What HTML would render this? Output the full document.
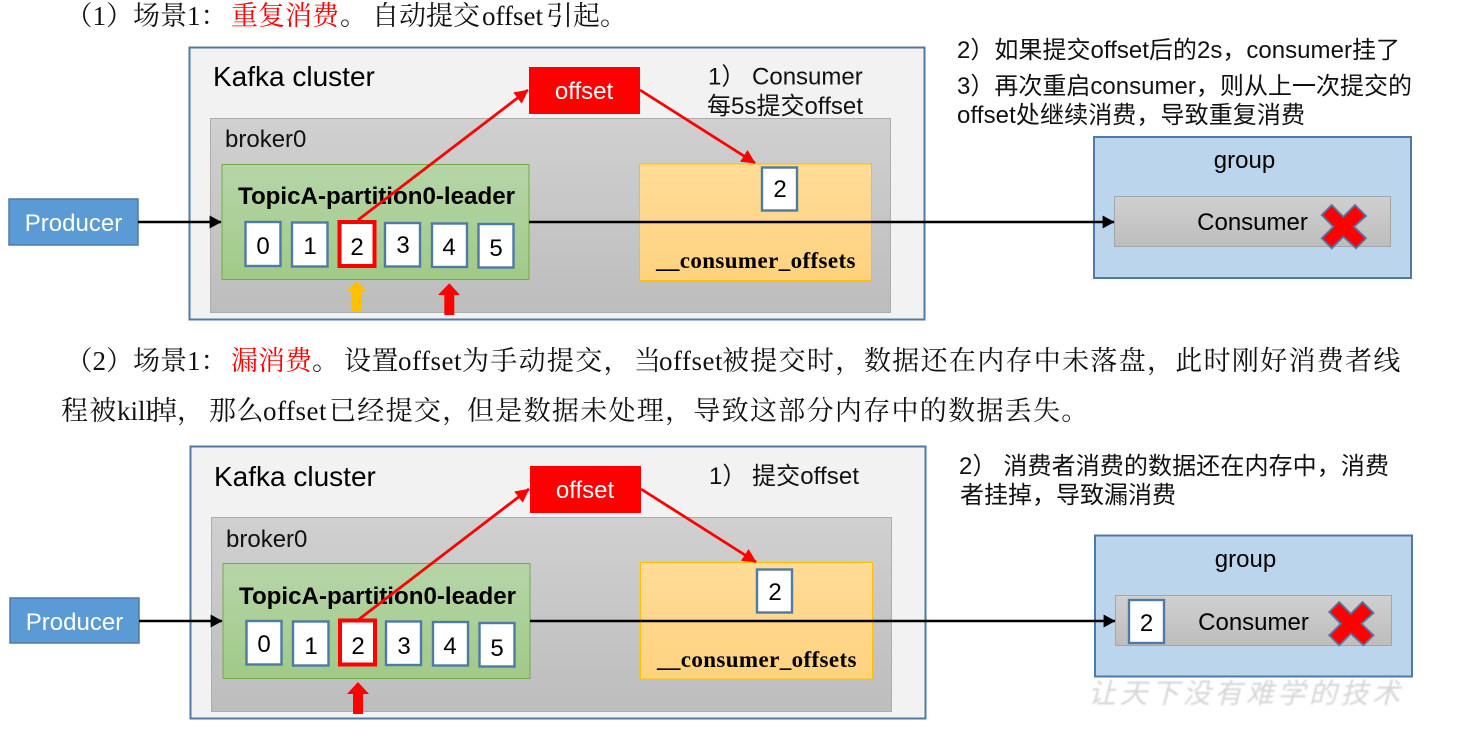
<!DOCTYPE html>
<html><head><meta charset="utf-8">
<style>
html,body{margin:0;padding:0;background:#fff}
svg{display:block}
text{font-family:"Liberation Sans","Noto Sans CJK SC",sans-serif;fill:#000}
.s{font-family:"Liberation Serif","Noto Serif CJK SC",serif;font-size:27px;fill:#111}
.p{letter-spacing:1.3px}
.q{letter-spacing:.5px}
.c{font-size:24px;text-anchor:middle}
.n{font-size:24px;fill:#111}
.m{font-size:24px;text-anchor:middle}
.w{fill:#fff;stroke:#4f7aa5;stroke-width:2.4}
.o{font-family:"Liberation Serif",serif;font-weight:bold;font-size:23px;letter-spacing:.5px}
</style></head><body>
<svg width="1483" height="731" viewBox="0 0 1483 731" xmlns="http://www.w3.org/2000/svg">
<defs>
<linearGradient id="gb" x1="0" y1="0" x2="0" y2="1"><stop offset="0" stop-color="#d0d0d0"/><stop offset="1" stop-color="#bdbdbd"/></linearGradient>
<linearGradient id="gg" x1="0" y1="0" x2="0" y2="1"><stop offset="0" stop-color="#b6d5a8"/><stop offset="1" stop-color="#a0ca88"/></linearGradient>
<linearGradient id="go" x1="0" y1="0" x2="0" y2="1"><stop offset="0" stop-color="#ffdc98"/><stop offset="1" stop-color="#ffd27f"/></linearGradient>
<marker id="ab" viewBox="0 0 10 10" refX="9.5" refY="5" markerWidth="12" markerHeight="13" markerUnits="userSpaceOnUse" orient="auto" preserveAspectRatio="none"><path d="M0 0L10 5L0 10Z" fill="#000"/></marker>
<marker id="ar" viewBox="0 0 10 10" refX="9.5" refY="5" markerWidth="14" markerHeight="14" markerUnits="userSpaceOnUse" orient="auto" preserveAspectRatio="none"><path d="M0 0L10 5L0 10Z" fill="#f00"/></marker>
<filter id="bl"><feGaussianBlur stdDeviation="0.7"/></filter>
</defs>

<!-- top text -->
<text class="s" y="25"><tspan x="65.500">（1）</tspan><tspan x="133">场景1：</tspan><tspan x="231" fill="#f00">重复消费</tspan><tspan x="340">。</tspan><tspan x="372">自动提交</tspan><tspan x="482">offset</tspan><tspan x="546">引起。</tspan></text>

<!-- diagram 1 -->
<rect x="189.500" y="47.500" width="735" height="272" fill="#f2f2f2" stroke="#4f7aa5" stroke-width="2"/>
<rect x="210.500" y="118.500" width="680" height="194" fill="url(#gb)" stroke="#adadad" stroke-width="1"/>
<text x="213" y="86" font-size="28">Kafka cluster</text>
<text x="225" y="147" class="n">broker0</text>
<rect x="222" y="164.500" width="307" height="115" fill="url(#gg)" stroke="#70ad47" stroke-width="1"/>
<text x="238" y="204" font-size="24" font-weight="bold" textLength="277" lengthAdjust="spacingAndGlyphs">TopicA-partition0-leader</text>
<rect x="245.500" y="222" width="35" height="44" class="w"/><text x="263" y="254" class="m">0</text>
<rect x="292" y="222.500" width="35.500" height="44" class="w"/><text x="310" y="254" class="m">1</text>
<rect x="339.500" y="222" width="35" height="44" fill="#fff" stroke="#f00" stroke-width="4"/><text x="357" y="255" class="m">2</text>
<rect x="385" y="223" width="35" height="43.500" class="w"/><text x="403" y="253" class="m">3</text>
<rect x="432" y="223.500" width="35" height="43.500" class="w"/><text x="449" y="255" class="m">4</text>
<rect x="478.500" y="224" width="35" height="43.500" class="w"/><text x="496" y="256" class="m">5</text>
<path d="M356.700 280.700L367 291.700H361.700V311.700H351.700V291.700H345.700Z" fill="#ffc000"/>
<path d="M449.300 283.300L460 295H454.300V315H444.300V295H438Z" fill="#f00"/>
<rect x="529" y="67" width="111" height="47" fill="#f00"/>
<text x="584" y="99" class="c" style="fill:#fff">offset</text>
<text x="708" y="84.500" class="n">1） Consumer</text>
<text x="707" y="114" class="n" textLength="156">每5s提交offset</text>
<rect x="639.500" y="164" width="232" height="116.500" fill="url(#go)" stroke="#ffc000" stroke-width="1"/>
<rect x="762" y="167.500" width="35" height="43" class="w"/><text x="780" y="197" class="m">2</text>
<text x="656" y="268" class="o" textLength="200">__consumer_offsets</text>
<rect x="9" y="199" width="129" height="46" fill="#5b9bd5" stroke="#4f7aa5" stroke-width="1.500"/>
<text x="73.500" y="231" class="c" style="fill:#fff">Producer</text>
<text x="957" y="58" class="n" textLength="443">2）如果提交offset后的2s，consumer挂了</text>
<text x="957" y="94" class="n" textLength="455">3）再次重启consumer，则从上一次提交的</text>
<text x="957" y="123" class="n" textLength="348">offset处继续消费，导致重复消费</text>
<rect x="1094" y="137" width="317" height="141" fill="#bbd5ed" stroke="#4f7aa5" stroke-width="2"/>
<text x="1244.500" y="168" class="c">group</text>
<rect x="1114.500" y="196.500" width="276" height="50" fill="url(#gb)" stroke="#a5a5a5" stroke-width="1"/>
<text x="1252.500" y="230" class="c">Consumer</text>
<path id="x1" d="M1321.700 215L1331.700 205L1343.300 216.700L1355 205L1366 216L1354 226.700L1366 238.300L1356 248.300L1343.300 236.700L1331.700 248.300L1321.700 238.300L1333.300 226.700Z" fill="#f00" stroke="#4f7aa5" stroke-width="1.800"/>
<line x1="138" y1="222" x2="221" y2="222" stroke="#000" stroke-width="2.600" marker-end="url(#ab)"/>
<line x1="529" y1="222" x2="1114" y2="222" stroke="#000" stroke-width="2.600" marker-end="url(#ab)"/>
<line x1="358" y1="220" x2="528" y2="90" stroke="#f00" stroke-width="2.800" marker-end="url(#ar)"/>
<line x1="640" y1="90" x2="755" y2="163" stroke="#f00" stroke-width="2.800" marker-end="url(#ar)"/>

<!-- middle text -->
<text class="s" y="370"><tspan x="65.500">（2）</tspan><tspan x="133">场景1：</tspan><tspan x="231" fill="#f00">漏消费</tspan><tspan x="312">。</tspan><tspan x="344" class="q">设置</tspan><tspan x="398" class="q">offset</tspan><tspan x="462" class="p">为手动提交，</tspan><tspan x="634">当</tspan><tspan x="659" class="q">offset</tspan><tspan x="722" class="p">被提交时，</tspan><tspan x="864" class="p">数据还在内存中未落盘，此时刚好消费者线</tspan></text>
<text class="s" y="420"><tspan x="61" class="p">程被</tspan><tspan x="117">kill</tspan><tspan x="150">掉，</tspan><tspan x="209" class="q">那么</tspan><tspan x="263" class="q">offset</tspan><tspan x="329" class="p">已经提交，</tspan><tspan x="467" class="p">但是数据未处理，导致这部分内存中的数据丢失。</tspan></text>

<!-- diagram 2 -->
<text x="1088" y="703" font-size="28" font-style="italic" filter="url(#bl)" style="fill:#d6d6d6" textLength="312" lengthAdjust="spacing">让天下没有难学的技术</text>
<rect x="190.500" y="446.500" width="735" height="272" fill="#f2f2f2" stroke="#4f7aa5" stroke-width="2"/>
<rect x="211.500" y="517.500" width="680" height="194" fill="url(#gb)" stroke="#adadad" stroke-width="1"/>
<text x="214" y="486" font-size="28">Kafka cluster</text>
<text x="226" y="547" class="n">broker0</text>
<rect x="223" y="563.500" width="307" height="115" fill="url(#gg)" stroke="#70ad47" stroke-width="1"/>
<text x="239" y="604" font-size="24" font-weight="bold" textLength="277" lengthAdjust="spacingAndGlyphs">TopicA-partition0-leader</text>
<rect x="246.500" y="621" width="35" height="43.500" class="w"/><text x="264" y="652" class="m">0</text>
<rect x="293" y="621.500" width="35.500" height="44" class="w"/><text x="311" y="654" class="m">1</text>
<rect x="340" y="620.500" width="35" height="44" fill="#fff" stroke="#f00" stroke-width="4"/><text x="358" y="654" class="m">2</text>
<rect x="386" y="621.500" width="35" height="43.500" class="w"/><text x="404" y="654" class="m">3</text>
<rect x="433" y="622" width="35" height="43.500" class="w"/><text x="450" y="654" class="m">4</text>
<rect x="479.500" y="623" width="35" height="43.500" class="w"/><text x="497" y="656" class="m">5</text>
<path d="M358 682L369 694H363V714H353V694H347Z" fill="#f00"/>
<rect x="530" y="466" width="111" height="47" fill="#f00"/>
<text x="585" y="498" class="c" style="fill:#fff">offset</text>
<text x="709" y="484" class="n">1）</text>
<text x="752" y="484" class="n" textLength="107">提交offset</text>
<rect x="640.500" y="562.500" width="232" height="116.500" fill="url(#go)" stroke="#ffc000" stroke-width="1"/>
<rect x="757" y="569.500" width="35" height="43" class="w"/><text x="775" y="600" class="m">2</text>
<text x="657" y="667" class="o" textLength="200">__consumer_offsets</text>
<rect x="10" y="598" width="129" height="45" fill="#5b9bd5" stroke="#4f7aa5" stroke-width="1.500"/>
<text x="74.500" y="630" class="c" style="fill:#fff">Producer</text>
<text x="959" y="474" class="n" textLength="430">2） 消费者消费的数据还在内存中，消费</text>
<text x="960" y="503" class="n" textLength="216">者挂掉，导致漏消费</text>
<rect x="1095" y="535.500" width="317" height="141" fill="#bbd5ed" stroke="#4f7aa5" stroke-width="2"/>
<text x="1245.500" y="567" class="c">group</text>
<rect x="1115.500" y="595.500" width="276" height="50" fill="url(#gb)" stroke="#a5a5a5" stroke-width="1"/>
<rect x="1129" y="600" width="35" height="43" class="w"/><text x="1146.500" y="631" class="m">2</text>
<text x="1253.500" y="630" class="c">Consumer</text>
<path transform="translate(7.500 397)" d="M1321.700 215L1331.700 205L1343.300 216.700L1355 205L1366 216L1354 226.700L1366 238.300L1356 248.300L1343.300 236.700L1331.700 248.300L1321.700 238.300L1333.300 226.700Z" fill="#f00" stroke="#4f7aa5" stroke-width="1.800"/>
<line x1="139" y1="621" x2="222" y2="621" stroke="#000" stroke-width="2.600" marker-end="url(#ab)"/>
<line x1="530" y1="621" x2="1115" y2="621" stroke="#000" stroke-width="2.600" marker-end="url(#ab)"/>
<line x1="358" y1="620" x2="529" y2="489" stroke="#f00" stroke-width="2.800" marker-end="url(#ar)"/>
<line x1="641" y1="489" x2="756" y2="562" stroke="#f00" stroke-width="2.800" marker-end="url(#ar)"/>
</svg>
</body></html>
